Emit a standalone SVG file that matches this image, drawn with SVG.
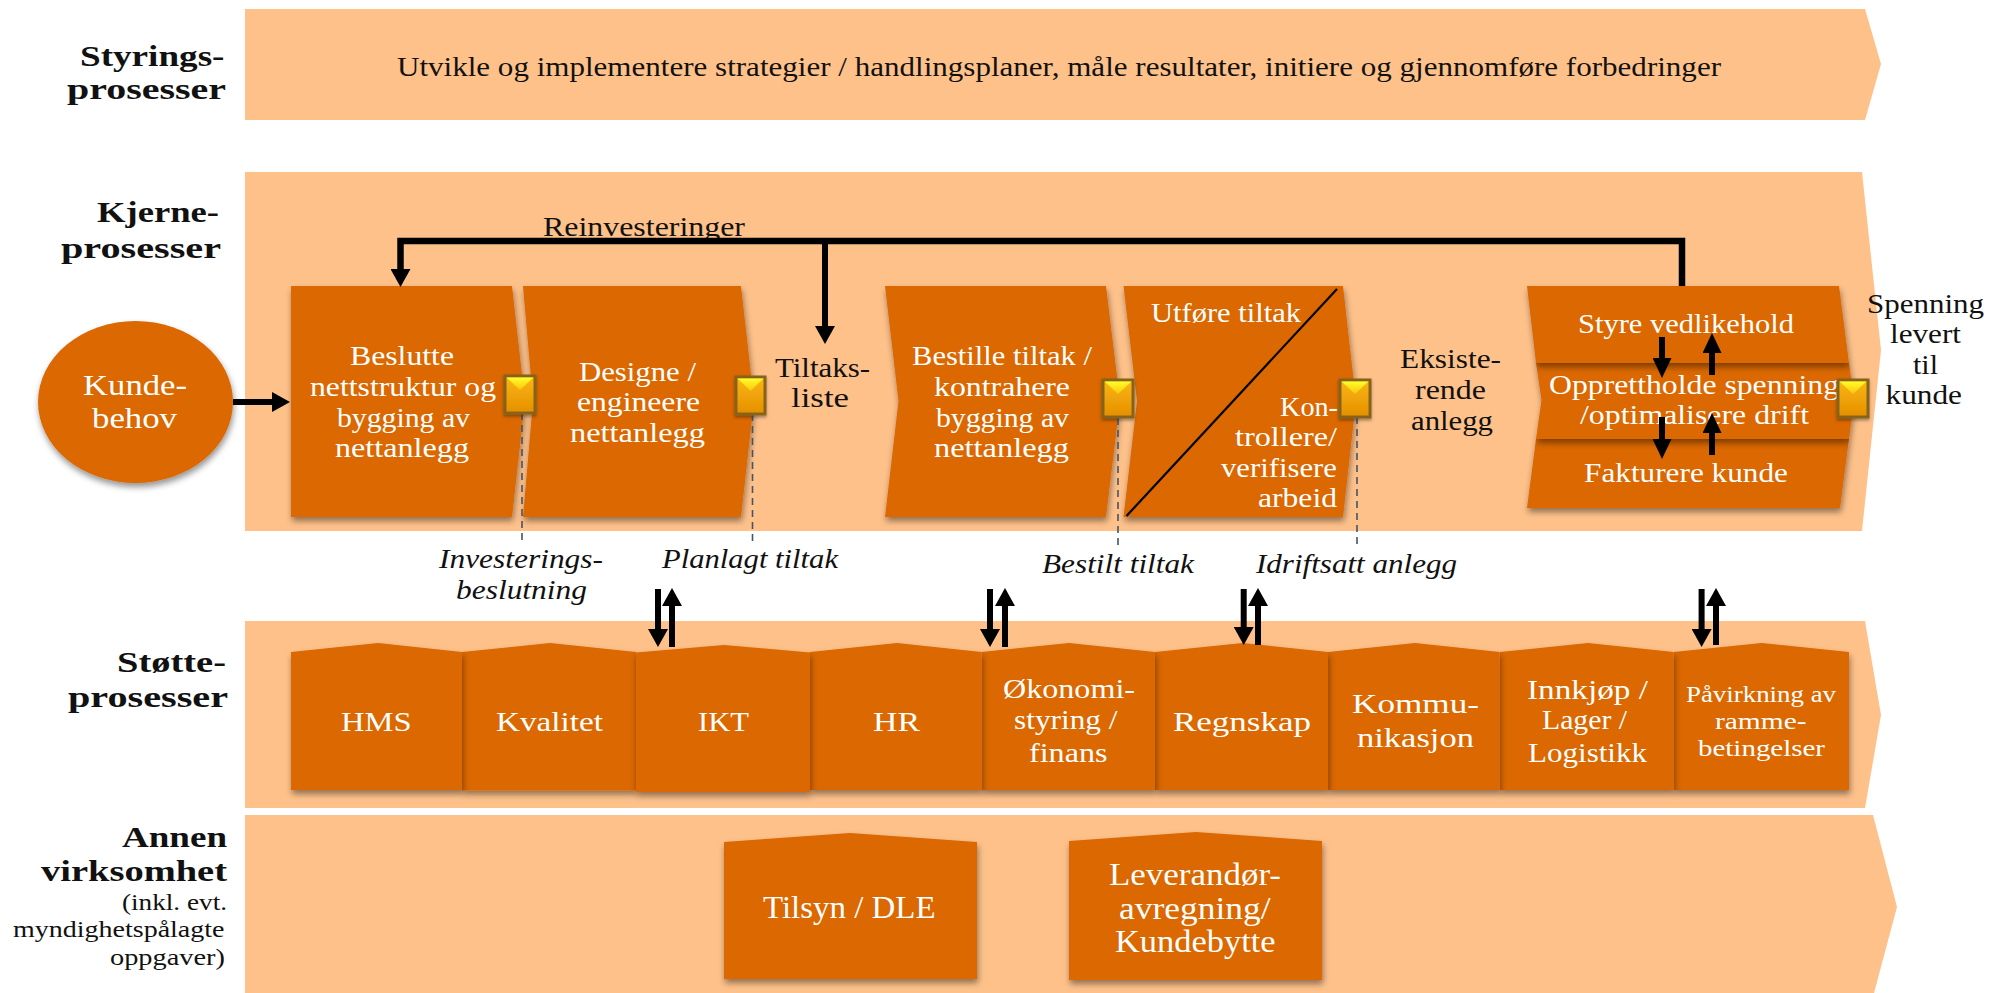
<svg xmlns="http://www.w3.org/2000/svg" width="1991" height="993" viewBox="0 0 1991 993">
<style>
text{font-family:"Liberation Serif","Times New Roman",serif;font-size:28px;fill:#111}
.w{fill:#fff}
.b{font-weight:bold;font-size:29px}
.i{font-style:italic}
.s{font-size:24px}
.band{fill:#fec18a}
.node{fill:#db6700;filter:url(#sh)}
.ln{fill:none;stroke:#000;stroke-width:6}
.a{marker-end:url(#h)}
.a2{marker-end:url(#h2)}
.d{fill:none;stroke:#44546a;stroke-width:1.6;stroke-dasharray:7 5}
.mk{fill:url(#mg);stroke:#86641a;stroke-width:3;filter:url(#sh2)}
.mt{fill:url(#my)}
</style>
<defs>
<filter id="sh" x="-10%" y="-10%" width="120%" height="125%"><feDropShadow dx="1" dy="4" stdDeviation="3" flood-color="#000" flood-opacity=".42"/></filter>
<filter id="sh2" x="-20%" y="-20%" width="140%" height="140%"><feDropShadow dx="0" dy="2" stdDeviation="1.5" flood-color="#000" flood-opacity=".35"/></filter>
<linearGradient id="mg" x1="0" y1="0" x2="0" y2="1"><stop offset="0" stop-color="#fbb710"/><stop offset="1" stop-color="#e58f00"/></linearGradient>
<linearGradient id="my" x1="0" y1="0" x2="0" y2="1"><stop offset="0" stop-color="#ffff2a"/><stop offset="1" stop-color="#fcc30e"/></linearGradient>
<marker id="h" markerUnits="userSpaceOnUse" markerWidth="18" markerHeight="20" refX="0" refY="10" orient="auto"><path d="M0,0L18,10L0,20Z"/></marker>
<marker id="h2" markerUnits="userSpaceOnUse" markerWidth="20" markerHeight="19" refX="0" refY="9.5" orient="auto"><path d="M0,0L20,9.5L0,19Z"/></marker>
</defs>

<g id="bands">
<polygon id="band-styring" class="band" points="245,9 1865,9 1881,64 1865,120 245,120"/>
<polygon id="band-kjerne" class="band" points="245,172 1862,172 1881,350 1862,531 245,531"/>
<polygon id="band-stotte" class="band" points="245,621 1865,621 1881,715 1865,808 245,808"/>
<polygon id="band-annen" class="band" points="245,815 1873,815 1897,907 1874,993 245,993"/>
</g>

<g id="labels">
<text class="b" x="80" y="66" textLength="144.500" lengthAdjust="spacingAndGlyphs">Styrings-</text>
<text class="b" x="67" y="99" textLength="159" lengthAdjust="spacingAndGlyphs">prosesser</text>
<text class="b" x="97" y="222" textLength="122" lengthAdjust="spacingAndGlyphs">Kjerne-</text>
<text class="b" x="61" y="258" textLength="160" lengthAdjust="spacingAndGlyphs">prosesser</text>
<text class="b" x="117" y="672" textLength="109" lengthAdjust="spacingAndGlyphs">Støtte-</text>
<text class="b" x="68" y="707" textLength="160" lengthAdjust="spacingAndGlyphs">prosesser</text>
<text class="b" x="122" y="847" textLength="105" lengthAdjust="spacingAndGlyphs">Annen</text>
<text class="b" x="41" y="881" textLength="186" lengthAdjust="spacingAndGlyphs">virksomhet</text>
<text class="s" x="122" y="910" textLength="105" lengthAdjust="spacingAndGlyphs">(inkl. evt.</text>
<text class="s" x="13" y="937" textLength="211.500" lengthAdjust="spacingAndGlyphs">myndighetspålagte</text>
<text class="s" x="110" y="965" textLength="115" lengthAdjust="spacingAndGlyphs">oppgaver)</text>
<text x="397" y="76" textLength="1324" lengthAdjust="spacingAndGlyphs">Utvikle og implementere strategier / handlingsplaner, måle resultater, initiere og gjennomføre forbedringer</text>
<text x="543" y="236" textLength="202" lengthAdjust="spacingAndGlyphs">Reinvesteringer</text>
<text x="775" y="377" textLength="95" lengthAdjust="spacingAndGlyphs">Tiltaks-</text>
<text x="791" y="407" textLength="58" lengthAdjust="spacingAndGlyphs">liste</text>
<text x="1400" y="368" textLength="101" lengthAdjust="spacingAndGlyphs">Eksiste-</text>
<text x="1415" y="399" textLength="71" lengthAdjust="spacingAndGlyphs">rende</text>
<text x="1411" y="430" textLength="82" lengthAdjust="spacingAndGlyphs">anlegg</text>
<text x="1867" y="313" textLength="117" lengthAdjust="spacingAndGlyphs">Spenning</text>
<text x="1890" y="343" textLength="71" lengthAdjust="spacingAndGlyphs">levert</text>
<text x="1913" y="374" textLength="25" lengthAdjust="spacingAndGlyphs">til</text>
<text x="1885.500" y="404" textLength="76.500" lengthAdjust="spacingAndGlyphs">kunde</text>
<text class="i" x="439" y="568" textLength="164" lengthAdjust="spacingAndGlyphs">Investerings-</text>
<text class="i" x="456" y="599" textLength="131" lengthAdjust="spacingAndGlyphs">beslutning</text>
<text class="i" x="662" y="568" textLength="176" lengthAdjust="spacingAndGlyphs">Planlagt tiltak</text>
<text class="i" x="1042" y="573" textLength="152" lengthAdjust="spacingAndGlyphs">Bestilt tiltak</text>
<text class="i" x="1256" y="573" textLength="201" lengthAdjust="spacingAndGlyphs">Idriftsatt anlegg</text>
</g>

<g id="kundebehov">
<ellipse class="node" cx="135.500" cy="402" rx="97.500" ry="81"/>
<text class="w" style="font-size:30px" x="83" y="395" textLength="104" lengthAdjust="spacingAndGlyphs">Kunde-</text>
<text class="w" style="font-size:30px" x="92" y="428" textLength="85" lengthAdjust="spacingAndGlyphs">behov</text>
</g>

<g id="beslutte">
<polygon class="node" points="291,286 512,286 525,401 512,517 291,517"/>
<text class="w" x="350" y="365" textLength="104" lengthAdjust="spacingAndGlyphs">Beslutte</text>
<text class="w" x="310" y="396" textLength="186" lengthAdjust="spacingAndGlyphs">nettstruktur og</text>
<text class="w" x="337" y="427" textLength="133" lengthAdjust="spacingAndGlyphs">bygging av</text>
<text class="w" x="335" y="457" textLength="134" lengthAdjust="spacingAndGlyphs">nettanlegg</text>
</g>
<g id="designe">
<polygon class="node" points="523,286 741,286 754,401 741,517 523,517 533,401"/>
<text class="w" x="579" y="381" textLength="117" lengthAdjust="spacingAndGlyphs">Designe /</text>
<text class="w" x="577" y="411" textLength="123" lengthAdjust="spacingAndGlyphs">engineere</text>
<text class="w" x="570" y="442" textLength="135" lengthAdjust="spacingAndGlyphs">nettanlegg</text>
</g>
<g id="bestille">
<polygon class="node" points="885,286 1106,286 1120,401 1106,517 885,517 898.500,401"/>
<text class="w" x="912" y="365" textLength="180" lengthAdjust="spacingAndGlyphs">Bestille tiltak /</text>
<text class="w" x="934" y="396" textLength="136" lengthAdjust="spacingAndGlyphs">kontrahere</text>
<text class="w" x="936" y="427" textLength="133" lengthAdjust="spacingAndGlyphs">bygging av</text>
<text class="w" x="934" y="457" textLength="135" lengthAdjust="spacingAndGlyphs">nettanlegg</text>
</g>
<g id="utfore">
<polygon class="node" points="1123.500,286 1343,286 1356,401 1343,517 1123.500,517 1137,401"/>
<line x1="1337" y1="289" x2="1126.500" y2="516" stroke="#000" stroke-width="2.200"/>
<text class="w" x="1151" y="322" textLength="150" lengthAdjust="spacingAndGlyphs">Utføre tiltak</text>
<text class="w" x="1280" y="416" textLength="58" lengthAdjust="spacingAndGlyphs">Kon-</text>
<text class="w" x="1235" y="446" textLength="102" lengthAdjust="spacingAndGlyphs">trollere/</text>
<text class="w" x="1221" y="477" textLength="116" lengthAdjust="spacingAndGlyphs">verifisere</text>
<text class="w" x="1258" y="507" textLength="79" lengthAdjust="spacingAndGlyphs">arbeid</text>
</g>
<g id="fakturere">
<polygon class="node" points="1536,439 1849,439 1840,508 1527,508"/>
<text class="w" x="1584" y="482" textLength="204" lengthAdjust="spacingAndGlyphs">Fakturere kunde</text>
</g>
<g id="opprettholde">
<polygon class="node" points="1536,363 1849,363 1854,400 1849,439 1536,439 1541.500,400"/>
<text class="w" x="1549" y="394" textLength="290" lengthAdjust="spacingAndGlyphs">Opprettholde spenning</text>
<text class="w" x="1580" y="424" textLength="229" lengthAdjust="spacingAndGlyphs">/optimalisere drift</text>
</g>
<g id="styre">
<polygon class="node" points="1527,286 1839,286 1849,363 1536,363"/>
<text class="w" x="1578" y="333" textLength="216" lengthAdjust="spacingAndGlyphs">Styre vedlikehold</text>
</g>

<g id="pavirkning">
<polygon class="node" points="1673.600,652 1761.500,643 1849,652 1849,790 1673.600,790"/>
<text class="w s" x="1686" y="702" textLength="150" lengthAdjust="spacingAndGlyphs">Påvirkning av</text>
<text class="w s" x="1715" y="729" textLength="91.500" lengthAdjust="spacingAndGlyphs">ramme-</text>
<text class="w s" x="1698" y="756" textLength="127" lengthAdjust="spacingAndGlyphs">betingelser</text>
</g>
<g id="innkjop">
<polygon class="node" points="1499.600,652 1588,643 1673.600,652 1673.600,790 1499.600,790"/>
<text class="w" x="1527" y="699" textLength="121" lengthAdjust="spacingAndGlyphs">Innkjøp /</text>
<text class="w" x="1542" y="729" textLength="85" lengthAdjust="spacingAndGlyphs">Lager /</text>
<text class="w" x="1528" y="762" textLength="119" lengthAdjust="spacingAndGlyphs">Logistikk</text>
</g>
<g id="kommunikasjon">
<polygon class="node" points="1328,652 1415,643 1499.600,652 1499.600,790 1328,790"/>
<text class="w" x="1352" y="713" textLength="127" lengthAdjust="spacingAndGlyphs">Kommu-</text>
<text class="w" x="1357" y="747" textLength="117" lengthAdjust="spacingAndGlyphs">nikasjon</text>
</g>
<g id="regnskap">
<polygon class="node" points="1155,652 1242.600,643 1328,652 1328,790 1155,790"/>
<text class="w" x="1173" y="731" textLength="138" lengthAdjust="spacingAndGlyphs">Regnskap</text>
</g>
<g id="okonomi">
<polygon class="node" points="981.500,652 1069,643 1155,652 1155,790 981.500,790"/>
<text class="w" x="1003" y="698" textLength="132" lengthAdjust="spacingAndGlyphs">Økonomi-</text>
<text class="w" x="1014" y="729" textLength="103.500" lengthAdjust="spacingAndGlyphs">styring /</text>
<text class="w" x="1029" y="761.500" textLength="78.500" lengthAdjust="spacingAndGlyphs">finans</text>
</g>
<g id="hr">
<polygon class="node" points="810,652 897,643 981.500,652 981.500,790 810,790"/>
<text class="w" x="873" y="731" textLength="47" lengthAdjust="spacingAndGlyphs">HR</text>
</g>
<g id="kvalitet">
<polygon class="node" points="462,652 550,643 636,652 636,790.500 462,790.500"/>
<text class="w" x="496" y="731" textLength="107" lengthAdjust="spacingAndGlyphs">Kvalitet</text>
</g>
<g id="hms">
<polygon class="node" points="291,652 378,643 462,652 462,790 291,790"/>
<text class="w" x="341" y="731" textLength="70.500" lengthAdjust="spacingAndGlyphs">HMS</text>
</g>
<g id="ikt">
<polygon class="node" points="636,652.500 724,645 810,652.500 810,792 636,792"/>
<text class="w" x="698" y="731" textLength="51" lengthAdjust="spacingAndGlyphs">IKT</text>
</g>
<g id="tilsyn">
<polygon class="node" points="724,842 850,833 977,842 977,979 724,979"/>
<text class="w" style="font-size:31px" x="763" y="918" textLength="172.600" lengthAdjust="spacingAndGlyphs">Tilsyn / DLE</text>
</g>
<g id="leverandor">
<polygon class="node" points="1069,841 1196,832 1322,841 1322,980 1069,980"/>
<text class="w" style="font-size:31px" x="1109" y="885" textLength="172" lengthAdjust="spacingAndGlyphs">Leverandør-</text>
<text class="w" style="font-size:31px" x="1119" y="919" textLength="151.500" lengthAdjust="spacingAndGlyphs">avregning/</text>
<text class="w" style="font-size:31px" x="1115" y="952" textLength="160.600" lengthAdjust="spacingAndGlyphs">Kundebytte</text>
</g>

<g id="connectors">
<path class="ln a" d="M233,402H272"/>
<path class="ln a" style="stroke-width:6.500" d="M1682,286V241H400.500V269"/>
<path class="ln a" d="M825,241V326"/>
<path class="ln a2" d="M1662,337V358"/>
<path class="ln a2" d="M1712,375V353"/>
<path class="ln a2" d="M1662,417V439"/>
<path class="ln a2" d="M1712,455V433"/>
<path class="ln a" d="M658,589V629"/>
<path class="ln a" d="M672,647V606"/>
<path class="ln a" d="M990,589V629"/>
<path class="ln a" d="M1005,647V606"/>
<path class="ln a" d="M1243.700,589V627"/>
<path class="ln a" d="M1258,645V606"/>
<path class="ln a" d="M1701.600,589V629"/>
<path class="ln a" d="M1716,645V606"/>
<path class="d" d="M522,413V540"/>
<path class="d" d="M752.500,414V542"/>
<path class="d" d="M1118,418V546"/>
<path class="d" d="M1357,417V546"/>
</g>

<g id="marker-1"><rect class="mk" x="505" y="376" width="30" height="37"/><polygon class="mt" points="506.500,377.500 533.500,377.500 520,390"/></g>
<g id="marker-2"><rect class="mk" x="736" y="377" width="29" height="37"/><polygon class="mt" points="737.500,378.500 763.500,378.500 750.500,391"/></g>
<g id="marker-3"><rect class="mk" x="1103" y="380" width="30" height="37"/><polygon class="mt" points="1104.500,381.500 1131.500,381.500 1118,394"/></g>
<g id="marker-4"><rect class="mk" x="1340" y="380" width="30" height="37"/><polygon class="mt" points="1341.500,381.500 1368.500,381.500 1355,394"/></g>
<g id="marker-5"><rect class="mk" x="1838" y="380" width="30" height="37"/><polygon class="mt" points="1839.500,381.500 1866.500,381.500 1853,394"/></g>
</svg>
